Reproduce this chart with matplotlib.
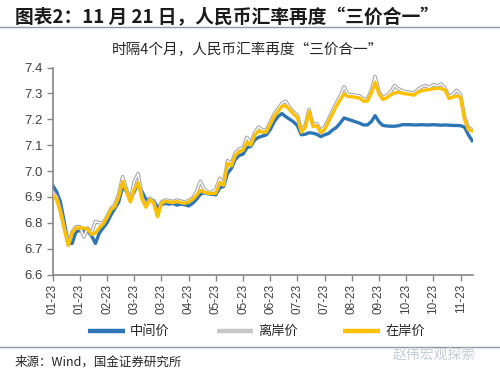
import matplotlib
matplotlib.use("Agg")
import matplotlib.pyplot as plt
import matplotlib.patheffects as pe
import numpy as np

plt.rcParams['font.family'] = ['Noto Sans CJK SC', 'DejaVu Sans']

title = "图表2：11 月 21 日，人民币汇率再度“三价合一”"
subtitle = "时隔4个月，人民币汇率再度“三价合一”"
source = "来源：Wind，国金证券研究所"
series_names = ["中间价", "离岸价", "在岸价"]
tick_labels = ["01-23", "01-23", "02-23", "03-23", "03-23", "04-23", "05-23", "05-23",
               "06-23", "07-23", "07-23", "08-23", "09-23", "10-23", "10-23", "11-23"]

central = [6.945, 6.92, 6.88, 6.80, 6.72, 6.72, 6.765, 6.77, 6.77, 6.768,
           6.75, 6.72, 6.76, 6.78, 6.80, 6.83, 6.855, 6.88, 6.94, 6.92,
           6.89, 6.92, 6.955, 6.92, 6.89, 6.89, 6.885, 6.86, 6.87, 6.875,
           6.872, 6.875, 6.868, 6.872, 6.87, 6.865, 6.875, 6.89, 6.91, 6.916,
           6.912, 6.91, 6.908, 6.935, 6.94, 6.99, 7.01, 7.045, 7.06, 7.065,
           7.09, 7.095, 7.12, 7.13, 7.135, 7.14, 7.16, 7.19, 7.21, 7.222,
           7.21, 7.20, 7.19, 7.175, 7.14, 7.142, 7.148, 7.146, 7.142, 7.133,
           7.14, 7.145, 7.158, 7.168, 7.185, 7.205, 7.20, 7.195, 7.19, 7.185,
           7.178, 7.178, 7.19, 7.214, 7.19, 7.176, 7.174, 7.173, 7.173, 7.175,
           7.179, 7.179, 7.179, 7.178, 7.178, 7.179, 7.178, 7.178, 7.179, 7.178,
           7.177, 7.178, 7.177, 7.176, 7.176, 7.175, 7.17, 7.14, 7.117]

offshore = [6.92, 6.90, 6.85, 6.78, 6.715, 6.765, 6.785, 6.785, 6.745, 6.78,
            6.76, 6.805, 6.80, 6.80, 6.825, 6.855, 6.87, 6.91, 6.978, 6.93,
            6.885, 6.96, 6.99, 6.90, 6.865, 6.895, 6.88, 6.83, 6.88, 6.888,
            6.886, 6.882, 6.888, 6.884, 6.88, 6.886, 6.895, 6.92, 6.96, 6.93,
            6.918, 6.918, 6.93, 6.972, 6.95, 7.04, 7.03, 7.07, 7.085, 7.09,
            7.13, 7.108, 7.148, 7.17, 7.158, 7.158, 7.19, 7.22, 7.24, 7.262,
            7.27, 7.245, 7.228, 7.215, 7.158, 7.176, 7.238, 7.18, 7.183, 7.156,
            7.17, 7.20, 7.232, 7.262, 7.29, 7.325, 7.296, 7.295, 7.292, 7.29,
            7.278, 7.278, 7.31, 7.365, 7.306, 7.284, 7.292, 7.305, 7.33, 7.318,
            7.31, 7.306, 7.304, 7.301, 7.315, 7.325, 7.33, 7.322, 7.334, 7.328,
            7.336, 7.32, 7.288, 7.296, 7.312, 7.295, 7.21, 7.168, 7.16]

onshore = [6.91, 6.89, 6.84, 6.775, 6.712, 6.76, 6.78, 6.78, 6.78, 6.775,
           6.755, 6.76, 6.78, 6.795, 6.82, 6.85, 6.862, 6.90, 6.96, 6.92,
           6.88, 6.93, 6.955, 6.89, 6.86, 6.89, 6.875, 6.823, 6.875, 6.883,
           6.88, 6.878, 6.882, 6.878, 6.875, 6.88, 6.89, 6.905, 6.925, 6.918,
           6.914, 6.913, 6.914, 6.955, 6.945, 7.03, 7.02, 7.06, 7.075, 7.08,
           7.112, 7.10, 7.138, 7.155, 7.15, 7.15, 7.18, 7.21, 7.23, 7.25,
           7.252, 7.237, 7.22, 7.207, 7.15, 7.168, 7.23, 7.172, 7.175, 7.148,
           7.16, 7.19, 7.22, 7.25, 7.275, 7.298, 7.288, 7.287, 7.284, 7.282,
           7.27, 7.27, 7.30, 7.342, 7.298, 7.276, 7.283, 7.294, 7.301, 7.305,
           7.30, 7.298, 7.296, 7.293, 7.305, 7.31, 7.313, 7.315, 7.318, 7.32,
           7.318, 7.313, 7.28, 7.285, 7.29, 7.285, 7.20, 7.16, 7.155]

BLUE = "#2e75b6"
GREY = "#bdbdbd"
YELLOW = "#ffc000"
AXC = "#868686"
TXT = "#404040"

fig = plt.figure(figsize=(5, 3.75), dpi=100)
ax = fig.add_axes([0.1054, 0.268, 0.8406, 0.552])

x = np.arange(len(onshore))
ax.plot(x, central, color=BLUE, lw=2.4, solid_joinstyle='round', zorder=2)
ax.plot(x, offshore, color="white", lw=1.0, zorder=3,
        path_effects=[pe.Stroke(linewidth=2.6, foreground="#a8a8a8"), pe.Normal()])
ax.plot(x, onshore, color=YELLOW, lw=2.4, solid_joinstyle='round', zorder=4)

ax.set_xlim(0, 108.2)
ax.set_ylim(6.6, 7.4)
ax.set_yticks(np.arange(6.6, 7.41, 0.1))
ax.set_yticklabels([f"{v:.1f}" for v in np.arange(6.6, 7.41, 0.1)])
ax.set_xticks(np.arange(len(tick_labels)) * 7)
ax.set_xticklabels(tick_labels, rotation=90)

for s in ["top", "right"]:
    ax.spines[s].set_visible(False)
for s in ["left", "bottom"]:
    ax.spines[s].set_color(AXC)
    ax.spines[s].set_linewidth(1.2)
ax.tick_params(axis='both', colors=AXC, labelcolor=TXT, length=4, width=1.0,
               direction='out')
ax.tick_params(axis='y', labelsize=9.5, pad=3)
ax.tick_params(axis='x', labelsize=8.5, pad=3)
for lab in ax.get_yticklabels() + ax.get_xticklabels():
    lab.set_family(['Liberation Sans', 'DejaVu Sans'])

# Titles and decorations
fig.text(0.03, 0.952, title, fontsize=13.5, fontweight='bold', color="#1a1a1a",
         ha='left', va='center')
fig.add_artist(plt.Line2D([0, 1], [0.928, 0.928], color="#8c9aa6", lw=1.0))
fig.text(0.495, 0.866, subtitle, fontsize=10.5, color="#262626", ha='center', va='center')

# Legend
leg_y = 0.117
items = [(0.176, 0.25, BLUE, series_names[0]),
         (0.434, 0.506, "#c8c8c8", series_names[1]),
         (0.686, 0.76, YELLOW, series_names[2])]
for x0, x1, c, name in items:
    fig.add_artist(plt.Line2D([x0, x1], [leg_y, leg_y], color=c, lw=3.2,
                              solid_capstyle='butt'))
    fig.text(x1 + 0.01, leg_y, name, fontsize=9.5, color="#262626", ha='left', va='center')

fig.add_artist(plt.Line2D([0, 1], [0.075, 0.075], color="#8c9aa6", lw=1.0))
fig.text(0.03, 0.035, source, fontsize=9, color="#262626", ha='left', va='center')
fig.text(0.785, 0.055, "赵伟宏观探索", fontsize=10, color="#c4ccd4", ha='left', va='center')

fig.savefig("out.png", dpi=100)
